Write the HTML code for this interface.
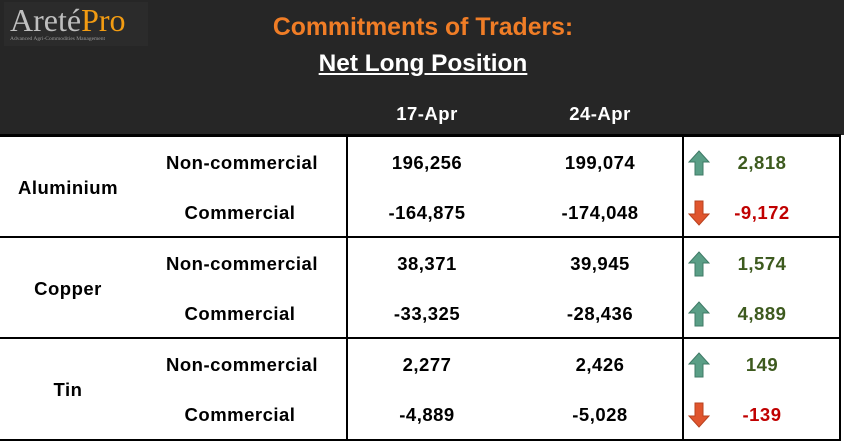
<!DOCTYPE html>
<html><head><meta charset="utf-8"><style>
body{margin:0;width:844px;height:443px;background:#fff;overflow:hidden;position:relative;font-family:"Liberation Sans",sans-serif;font-weight:bold}
.a{position:absolute}
.t{position:absolute;font-size:18.5px;letter-spacing:0.5px;color:#000;transform:translate(-50%,-50%);white-space:nowrap}
.hl{position:absolute;left:0;width:841px;height:2px;background:#000}
.vl{position:absolute;width:2px;background:#000}
</style></head><body>
<div class="a" style="left:0;top:0;width:844px;height:135px;background:#262626"></div>
<div class="a" style="left:4px;top:2px;width:144px;height:44px;background:#2b2b2b">
 <div class="a" style="left:6px;top:0px;font-family:'Liberation Serif',serif;font-weight:normal;font-size:32px;color:#bfbfbf;white-space:nowrap">Areté<span style="color:#f39c12">Pro</span></div>
 <div class="a" style="left:6px;top:34px;font-family:'Liberation Serif',serif;font-weight:normal;font-size:5.5px;color:#999;white-space:nowrap">Advanced Agri-Commodities Management</div>
</div>
<div class="t" style="left:423px;top:28px;font-size:24.8px;color:#f07d26;letter-spacing:0">Commitments of Traders:</div>
<div class="t" style="left:423px;top:64px;font-size:24.4px;color:#fff;letter-spacing:0;text-decoration:underline">Net Long Position</div>
<div class="t" style="left:427px;top:114px;color:#fff">17-Apr</div>
<div class="t" style="left:600px;top:114px;color:#fff">24-Apr</div>
<div class="hl" style="top:134px;height:3px"></div>
<div class="hl" style="top:236px"></div>
<div class="hl" style="top:337px"></div>
<div class="hl" style="top:439px"></div>
<div class="vl" style="left:346px;top:134px;height:307px"></div>
<div class="vl" style="left:682px;top:134px;height:307px"></div>
<div class="vl" style="left:839px;top:134px;height:307px"></div>
<div id="rows"></div>
<script>
const commodities=["Aluminium","Copper","Tin"];
const types=["Non-commercial","Commercial"];
const apr17=[196256,-164875,38371,-33325,2277,-4889];
const apr24=[199074,-174048,39945,-28436,2426,-5028];
const changes=[2818,-9172,1574,4889,149,-139];
const root=document.getElementById('rows');
const fmt=v=>(v<0?'-':'')+Math.abs(v).toLocaleString('en-US');
function txt(s,x,y,name,color){const d=document.createElement('div');d.className='t';d.textContent=s;d.style.left=x+'px';d.style.top=y+'px';if(color)d.style.color=color;


root.appendChild(d);return d;}
commodities.forEach((c,i)=>{txt(c,68,188+i*101,'commodity-'+c.toLowerCase());});
for(let r=0;r<6;r++){
 const y=163+Math.floor(r/2)*101+(r%2)*50;
 txt(types[r%2],r%2?240:242,y,'row-type-label');
 txt(fmt(apr17[r]),427,y,'value-17-apr');
 txt(fmt(apr24[r]),600,y,'value-24-apr');
 const up=changes[r]>=0;
 txt(fmt(changes[r]),762,y,'change-value',up?'#3d5a1e':'#c00000');
 const s=document.createElementNS('http://www.w3.org/2000/svg','svg');
 s.setAttribute('width','22');s.setAttribute('height','26');
 s.style.cssText='position:absolute;left:688px;top:'+(y-13)+'px';
 
 
 s.innerHTML=up?'<polygon points="11,1 21,12 15,12 15,25 7,25 7,12 1,12" fill="#5a9e86" stroke="#3f7a66" stroke-width="1"/>':'<polygon points="11,25 21,14 15,14 15,1 7,1 7,14 1,14" fill="#e0552e" stroke="#b8421f" stroke-width="1"/>';
 root.appendChild(s);
}
</script>
</body></html>
